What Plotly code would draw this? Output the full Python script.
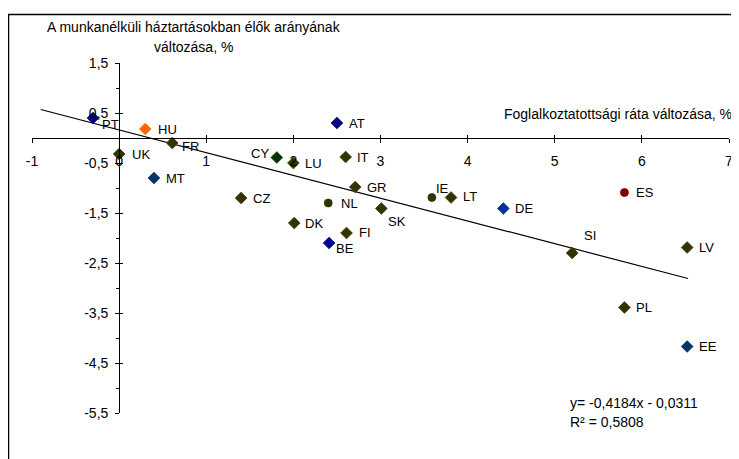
import plotly.graph_objects as go

# ---- data ----
countries = ["PT", "HU", "FR", "UK", "MT", "CY", "LU", "AT", "IT", "GR", "CZ", "NL",
             "DK", "FI", "BE", "SK", "IE", "LT", "DE", "ES", "SI", "LV", "PL", "EE"]
emp_change = [-0.3, 0.3, 0.61, 0.0, 0.4, 1.81, 2.0, 2.5, 2.6, 2.71, 1.4, 2.4,
              2.01, 2.61, 2.41, 3.01, 3.59, 3.81, 4.41, 5.8, 5.2, 6.52, 5.8, 6.52]
jobless_change = [0.4, 0.18, -0.1, -0.32, -0.8, -0.39, -0.5, 0.3, -0.38, -0.98, -1.2, -1.3,
                  -1.7, -1.9, -2.1, -1.41, -1.19, -1.19, -1.41, -1.09, -2.3, -2.19, -3.39, -4.17]
trend_x = [-0.9, 6.53]
trend_y = [0.57, -2.81]
x_ticks = [-1, 0, 1, 2, 3, 4, 5, 6, 7]
y_ticks = [1.5, 0.5, -0.5, -1.5, -2.5, -3.5, -4.5, -5.5]
y_ticktext = ["1,5", "0,5", "-0,5", "-1,5", "-2,5", "-3,5", "-4,5", "-5,5"]
eq_text = "y= -0,4184x - 0,0311"
r2_text = "R² = 0,5808"

# ---- styles ----
OLIVE = "#333300"
style = {
    "PT": ("#000080", "diamond"), "HU": ("#FF6600", "diamond"), "FR": (OLIVE, "diamond"),
    "UK": (OLIVE, "diamond"), "MT": ("#003366", "diamond"), "CY": ("#003300", "diamond"),
    "LU": (OLIVE, "diamond"), "AT": ("#000080", "diamond"), "IT": (OLIVE, "diamond"),
    "GR": (OLIVE, "diamond"), "CZ": (OLIVE, "diamond"), "NL": (OLIVE, "circle"),
    "DK": (OLIVE, "diamond"), "FI": (OLIVE, "diamond"), "BE": ("#000099", "diamond"),
    "SK": (OLIVE, "diamond"), "IE": (OLIVE, "circle"), "LT": (OLIVE, "diamond"),
    "DE": ("#003399", "diamond"), "ES": ("#800000", "circle"), "SI": (OLIVE, "diamond"),
    "LV": (OLIVE, "diamond"), "PL": (OLIVE, "diamond"), "EE": ("#003366", "diamond"),
}
# label offsets (xanchor, xshift px, yshift px)
label_pos = {
    "PT": ("left", 7, -6), "HU": ("left", 11, 0), "FR": ("left", 8, -3), "UK": ("left", 11, 0),
    "MT": ("left", 10, 0), "CY": ("right", -6, 4), "LU": ("left", 10, 0), "AT": ("left", 10, 0),
    "IT": ("left", 9, 0), "GR": ("left", 10, 0), "CZ": ("left", 10, 0), "NL": ("left", 11, 0),
    "DK": ("left", 9, 0), "FI": ("left", 10, 1), "BE": ("left", 5, -5), "SK": ("left", 5, -13),
    "IE": ("left", 2, 9), "LT": ("left", 10, 1), "DE": ("left", 10, 0), "ES": ("left", 10, 0),
    "SI": ("left", 10, 18), "LV": ("left", 10, 0), "PL": ("left", 10, 0), "EE": ("left", 10, 0),
}

FONT = "Liberation Sans, Arial, sans-serif"
LBL = 13
TXT = 14
X_RANGE = [-1, 7]
Y_RANGE = [-5.5, 1.5]
# axes cross at the data origin
y_axis_pos = (0 - X_RANGE[0]) / (X_RANGE[1] - X_RANGE[0])
x_axis_pos = (0 - Y_RANGE[0]) / (Y_RANGE[1] - Y_RANGE[0])

fig = go.Figure()

fig.add_trace(go.Scatter(
    x=trend_x, y=trend_y, mode="lines",
    line=dict(color="black", width=1.2), hoverinfo="skip", showlegend=False))

colors = [style[c][0] for c in countries]
fig.add_trace(go.Scatter(
    x=emp_change, y=jobless_change, mode="markers",
    marker=dict(color=colors,
                symbol=[style[c][1] for c in countries],
                size=[9 if style[c][1] == "diamond" else 8 for c in countries],
                opacity=1,
                line=dict(width=0.8, color=colors)),
    text=countries, showlegend=False))

# invisible trace to carry the overlay axes (for crossing tick marks)
fig.add_trace(go.Scatter(x=[None], y=[None], xaxis="x2", yaxis="y2",
                         showlegend=False, hoverinfo="skip"))

annotations = []
for c, xv, yv in zip(countries, emp_change, jobless_change):
    anc, dx, dy = label_pos[c]
    annotations.append(dict(x=xv, y=yv, xref="x", yref="y", text=c, showarrow=False,
                            xanchor=anc, yanchor="middle", xshift=dx, yshift=dy,
                            font=dict(size=LBL, color="black", family=FONT)))

def px_x(p):
    return (p - 31) / 697

def px_y(p):
    return (412 - p) / 350

annotations += [
    dict(x=px_x(193), y=px_y(26), xref="paper", yref="paper", showarrow=False,
         text="A munkanélküli háztartásokban élők arányának", xanchor="center", yanchor="middle",
         font=dict(size=TXT, color="black", family=FONT)),
    dict(x=px_x(192), y=px_y(46), xref="paper", yref="paper", showarrow=False,
         text="változása, %", xanchor="center", yanchor="middle",
         font=dict(size=TXT, color="black", family=FONT)),
    dict(x=px_x(733), y=px_y(113), xref="paper", yref="paper", showarrow=False,
         text="Foglalkoztatottsági ráta változása, %", xanchor="right", yanchor="middle",
         font=dict(size=TXT, color="black", family=FONT)),
    dict(x=px_x(567), y=px_y(402), xref="paper", yref="paper", showarrow=False,
         text=eq_text, xanchor="left", yanchor="middle",
         font=dict(size=TXT, color="black", family=FONT)),
    dict(x=px_x(567), y=px_y(421), xref="paper", yref="paper", showarrow=False,
         text=r2_text, xanchor="left", yanchor="middle",
         font=dict(size=TXT, color="black", family=FONT)),
]

fig.update_layout(
    width=739, height=459,
    margin=dict(l=24, r=18, t=55, b=54),
    paper_bgcolor="white", plot_bgcolor="white",
    font=dict(family=FONT, size=TXT, color="black"),
    separators=", ",
    xaxis=dict(range=X_RANGE, anchor="free", position=x_axis_pos,
               showgrid=False, zeroline=False, showline=True, linecolor="black", linewidth=1,
               tickmode="array", tickvals=x_ticks, ticktext=[str(t) for t in x_ticks],
               ticks="outside", ticklen=4, tickcolor="black", ticklabelstandoff=6,
               tickfont=dict(size=TXT, family=FONT, color="black")),
    yaxis=dict(range=Y_RANGE, anchor="free", position=y_axis_pos,
               showgrid=False, zeroline=False, showline=True, linecolor="black", linewidth=1,
               tickmode="array", tickvals=y_ticks, ticktext=y_ticktext,
               ticks="outside", ticklen=4, tickcolor="black", ticklabelstandoff=4,
               minor=dict(tickvals=[1, 0, -1, -2, -3, -4, -5], ticks="outside",
                          ticklen=3, tickcolor="black", showgrid=False),
               tickfont=dict(size=TXT, family=FONT, color="black")),
    xaxis2=dict(range=X_RANGE, overlaying="x", anchor="free", position=x_axis_pos,
                showgrid=False, zeroline=False, showline=False, showticklabels=False,
                tickmode="array", tickvals=x_ticks, ticks="inside", ticklen=3,
                tickcolor="black"),
    yaxis2=dict(range=Y_RANGE, overlaying="y", anchor="free", position=y_axis_pos,
                showgrid=False, zeroline=False, showline=False, showticklabels=False,
                tickmode="array", tickvals=y_ticks, ticks="inside", ticklen=3,
                tickcolor="black"),
    annotations=annotations,
    shapes=[dict(type="rect", xref="paper", yref="paper",
                 x0=px_x(7.5), y0=px_y(480), x1=px_x(780), y1=px_y(13.5),
                 line=dict(color="black", width=1.5), fillcolor="rgba(0,0,0,0)")],
    showlegend=False,
)

fig.write_html("out.html")
